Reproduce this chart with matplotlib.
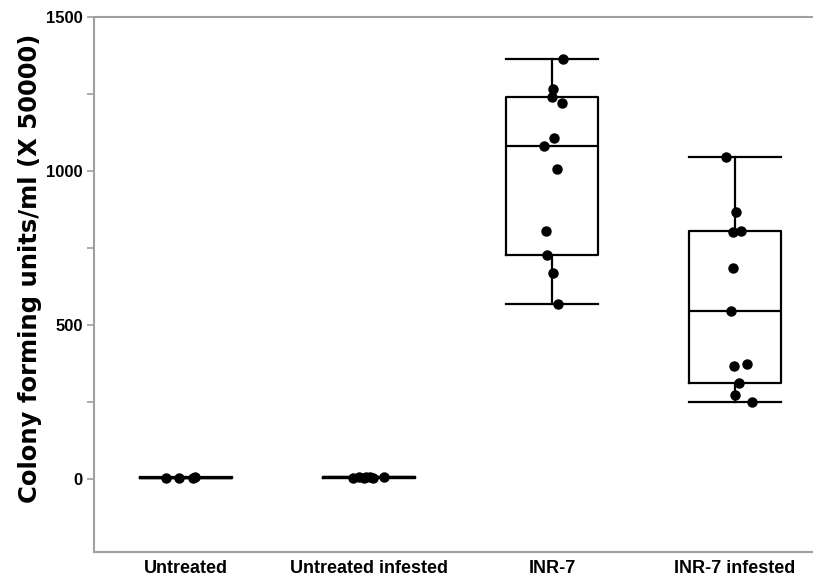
import numpy as np
import matplotlib
matplotlib.use("Agg")
import matplotlib.pyplot as plt
from matplotlib.ticker import MultipleLocator

# groups and values
groups = ["Untreated", "Untreated infested", "INR-7", "INR-7 infested"]

untreated = [2, 4, 3, 5]
untreated_inf = [4, 6, 3, 8, 5, 2, 6]
inr7 = [1364, 1266, 1240, 1221, 1107, 1081, 1006, 805, 727, 669, 568]
inr7_inf = [1045, 867, 803, 806, 686, 545, 368, 373, 311, 272, 250]

# horizontal scatter of the dots (fraction of category spacing)
untreated_dx = [-0.11, -0.04, 0.04, 0.05]
untreated_inf_dx = [-0.087, -0.055, -0.027, -0.016, 0.005, 0.022, 0.082]
inr7_dx = [0.06, 0.005, 0.0, 0.055, 0.01, -0.045, 0.027, -0.033, -0.027, 0.005, 0.033]
inr7_inf_dx = [-0.05, 0.005, -0.01, 0.033, -0.01, -0.022, -0.005, 0.066, 0.022, 0.0, 0.093]

data = [untreated, untreated_inf, inr7, inr7_inf]
jitter = [untreated_dx, untreated_inf_dx, inr7_dx, inr7_inf_dx]


def box_stats(vals, label):
    v = np.asarray(vals, dtype=float)
    q1, med, q3 = np.percentile(v, [25, 50, 75], method="weibull")
    return dict(label=label, med=med, q1=q1, q3=q3,
                whislo=v.min(), whishi=v.max(), fliers=[])


fig = plt.figure(figsize=(8.13, 5.84), dpi=100)
ax_w = 0.8844
ax = fig.add_axes([0.1156, 0.0548, ax_w, 0.9161])

stats = [box_stats(d, g) for d, g in zip(data, groups)]
line = dict(color="black", linewidth=1.6)
ax.bxp(stats, positions=range(4), widths=0.5, capwidths=0.5,
       showfliers=False, boxprops=line, whiskerprops=line,
       capprops=line, medianprops=line)

for i, (vals, dx) in enumerate(zip(data, jitter)):
    ax.plot(i + np.asarray(dx), vals, "o", color="black",
            markersize=6.5, zorder=5)

ax.set_xlim(-0.503, 3.426)
ax.set_ylim(-237, 1500)
ax.yaxis.set_major_locator(MultipleLocator(500))
ax.yaxis.set_minor_locator(MultipleLocator(250))

sans = ["Liberation Sans", "DejaVu Sans"]
ax.set_xticks(range(4))
ax.set_xticklabels(groups, family=sans, fontweight="bold", fontsize=13)
for lab in ax.get_yticklabels():
    lab.set_family(sans)
    lab.set_fontweight("bold")
    lab.set_fontsize(12)

ax.tick_params(axis="x", length=0, pad=6)
ax.tick_params(axis="y", which="both", length=5, width=1.2,
               color="#a0a0a0", pad=3)

for side in ["left", "bottom", "top"]:
    ax.spines[side].set_color("#a0a0a0")
    ax.spines[side].set_linewidth(1.5)
ax.spines["right"].set_visible(False)

ax.set_ylabel("Colony forming units/ml (X 50000)", fontsize=17.5,
              fontweight="bold", family=["DejaVu Sans"])
ax.yaxis.set_label_coords(-(94 - 42) / (813 * ax_w), 0.531)

fig.savefig("out.png", dpi=100)
